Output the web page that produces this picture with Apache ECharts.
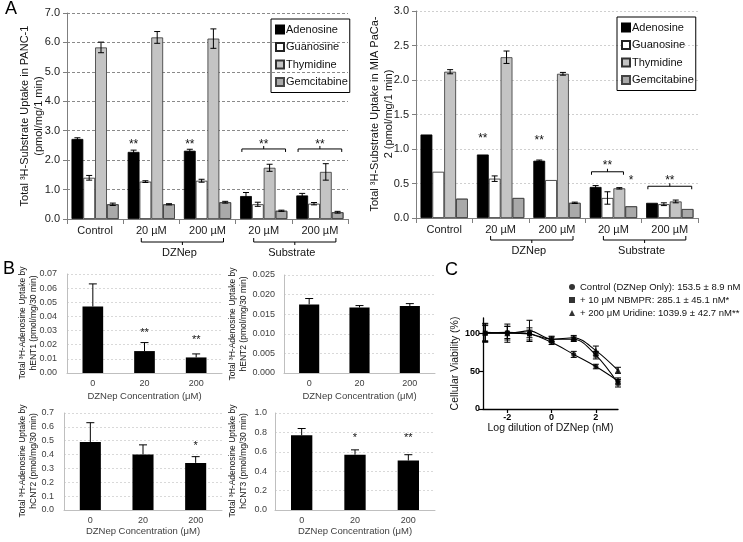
<!DOCTYPE html>
<html><head><meta charset="utf-8">
<script src="https://cdn.jsdelivr.net/npm/echarts@6/dist/echarts.min.js"></script>
<style>html,body{margin:0;padding:0;background:#fff}#c{width:743px;height:542px}</style>
</head><body><div id="c"></div>
<script>
// ---------------- data ----------------
const aCategories = ['Control', '20 µM', '200 µM', '20 µM', '200 µM'];
const substrates = ['Adenosine', 'Guanosine', 'Thymidine', 'Gemcitabine'];

const pancAdenosine = [2.72, 2.28, 2.32, 0.78, 0.80];
const pancAdenosineErr = [0.04, 0.06, 0.05, 0.12, 0.07];
const pancGuanosine = [1.40, 1.27, 1.30, 0.50, 0.52];
const pancGuanosineErr = [0.08, 0.03, 0.05, 0.07, 0.04];
const pancThymidine = [5.83, 6.17, 6.13, 1.74, 1.60];
const pancThymidineErr = [0.18, 0.20, 0.33, 0.12, 0.28];
const pancGemcitabine = [0.50, 0.50, 0.57, 0.28, 0.23];
const pancGemcitabineErr = [0.04, 0.02, 0.03, 0.02, 0.03];

const miaAdenosine = [1.21, 0.92, 0.83, 0.45, 0.22];
const miaAdenosineErr = [0, 0, 0.01, 0.02, 0];
const miaGuanosine = [0.67, 0.57, 0.55, 0.29, 0.20];
const miaGuanosineErr = [0, 0.04, 0, 0.09, 0.02];
const miaThymidine = [2.12, 2.33, 2.09, 0.43, 0.24];
const miaThymidineErr = [0.03, 0.09, 0.02, 0.01, 0.02];
const miaGemcitabine = [0.28, 0.29, 0.22, 0.17, 0.13];
const miaGemcitabineErr = [0, 0, 0.01, 0, 0];

const bCategories = ['0', '20', '200'];
const hENT1 = [0.047, 0.0155, 0.011];
const hENT1Err = [0.016, 0.006, 0.0025];
const hENT2 = [0.0175, 0.0167, 0.0171];
const hENT2Err = [0.0015, 0.0005, 0.0006];
const hCNT2 = [0.49, 0.40, 0.34];
const hCNT2Err = [0.14, 0.07, 0.045];
const hCNT3 = [0.77, 0.57, 0.51];
const hCNT3Err = [0.07, 0.05, 0.06];

const logDose = [-3, -2, -1, 0, 1, 2, 3];
const viabControl = [100, 101, 99, 88, 72, 56, 37];
const viabControlErr = [10, 8, 5, 3, 4, 3, 4];
const viabNBMPR = [100, 100, 99, 92, 92, 71, 34];
const viabNBMPRErr = [12, 9, 8, 4, 3, 5, 5];
const viabUridine = [101, 100, 103, 92, 94, 77, 51];
const viabUridineErr = [12, 12, 14, 3, 3, 6, 4];
const cLegend = ['Control (DZNep Only): 153.5 ± 8.9 nM', '+ 10 μM NBMPR: 285.1 ± 45.1 nM*', '+ 200 μM Uridine: 1039.9 ± 42.7 nM**'];
const cXTicks = [-2, 0, 2];
const cYTicks = [0, 50, 100];

// ---------------- helpers ----------------
const FONT = 'Liberation Sans, Arial, sans-serif';
const GAP_A = 0.16;
const GAP_B = 0.6;

function txt(x, y, text, size, extra) {
  return Object.assign({ type: 'text', x: x, y: y, style: { text: text, fill: '#111', fontSize: size, fontFamily: FONT, align: 'center', verticalAlign: 'middle', textAlign: 'center', textVerticalAlign: 'middle' } }, extra || {});
}
function poly(points, w) {
  return { type: 'polyline', shape: { points: points }, style: { stroke: '#000', fill: null, lineWidth: w || 1 } };
}

function errSeries(grid, vals, errs, idx, n, gap, upOnly, cap) {
  return {
    type: 'custom', xAxisIndex: grid, yAxisIndex: grid, z: 5, silent: true,
    data: vals.map((v, i) => [i, v, errs[i]]),
    renderItem: function (params, api) {
      const i = api.value(0), v = api.value(1), e = api.value(2);
      if (!e) return null;
      const band = api.size([1, 0])[0];
      const bw = band * (1 - gap) / n;
      const x = api.coord([i, v])[0] + (idx - (n - 1) / 2) * bw;
      const yTop = api.coord([i, v + e])[1];
      const yBot = api.coord([i, upOnly ? v : v - e])[1];
      const ch = [poly([[x, yTop], [x, yBot]]), poly([[x - cap, yTop], [x + cap, yTop]])];
      if (!upOnly) ch.push(poly([[x - cap, yBot], [x + cap, yBot]]));
      return { type: 'group', children: ch };
    }
  };
}

function annA(grid, cfg) {
  return {
    type: 'custom', xAxisIndex: grid, yAxisIndex: grid, z: 6, silent: true, clip: false,
    data: [[0, 0]],
    renderItem: function (params, api) {
      const ch = [];
      const band = api.size([1, 0])[0];
      const bw = band * (1 - GAP_A) / 4;
      const cx = c => api.coord([c, 0])[0];
      const bx = (c, i) => cx(c) + (i - 1.5) * bw;
      const y = v => api.coord([0, v])[1];
      const axisY = y(0);
      cfg.stars.forEach(s => ch.push(txt(bx(s.cat, s.bar), y(s.y) + 3, s.text, 12)));
      cfg.brackets.forEach(b => {
        const x1 = bx(b.cat, b.from) - bw * 0.35, x2 = bx(b.cat, b.to) + bw * 0.35, yy = y(b.y), m = (x1 + x2) / 2;
        ch.push(poly([[x1, yy + 3], [x1, yy], [x2, yy], [x2, yy + 3]]));
        ch.push(poly([[m, yy], [m, yy - 3]]));
        ch.push(txt(m, y(b.ty) + 3, b.text, 12));
      });
      cfg.groups.forEach(g => {
        const x1 = cx(g.c1) - 10, x2 = cx(g.c2) + 16, yy = axisY + cfg.dy, m = (x1 + x2) / 2;
        ch.push(poly([[x1, yy - 4], [x1, yy], [x2, yy], [x2, yy - 4]]));
        ch.push(poly([[m, yy], [m, yy + 3]]));
        ch.push(txt((cx(g.c1) + cx(g.c2)) / 2, yy + 11, g.label, 11));
      });
      return { type: 'group', children: ch };
    }
  };
}

function annB(grid, stars) {
  return {
    type: 'custom', xAxisIndex: grid, yAxisIndex: grid, z: 6, silent: true, clip: false,
    data: [[0, 0]],
    renderItem: function (params, api) {
      return { type: 'group', children: stars.map(s => txt(api.coord([s.cat, s.y])[0], api.coord([s.cat, s.y])[1] + 3, s.text, 11)) };
    }
  };
}

// ---------------- axes ----------------
const grids = [
  { left: 67, top: 13, width: 281, height: 206 },
  { left: 416, top: 11, width: 282, height: 207 },
  { left: 67, top: 274, width: 155, height: 99 },
  { left: 284, top: 275, width: 151, height: 98 },
  { left: 64, top: 413, width: 158, height: 97 },
  { left: 275, top: 413, width: 160, height: 97 },
  { left: 483, top: 318, width: 135, height: 91 }
];

function aX(g) {
  return { type: 'category', gridIndex: g, data: aCategories,
    axisLine: { lineStyle: { color: '#7f7f7f' } },
    axisTick: { show: true, length: 5, lineStyle: { color: '#7f7f7f' } },
    axisLabel: { fontSize: 11, color: '#1a1a1a', margin: 6, fontFamily: FONT, interval: 0 } };
}
function aY(g, max, interval, gridColor, gridType) {
  return { type: 'value', gridIndex: g, min: 0, max: max, interval: interval,
    axisLine: { show: true, lineStyle: { color: '#7f7f7f' } },
    axisTick: { show: true, length: 4, lineStyle: { color: '#7f7f7f' } },
    axisLabel: { fontSize: 11, color: '#1a1a1a', margin: 7, fontFamily: FONT, formatter: v => v.toFixed(1) },
    splitLine: { lineStyle: { color: gridColor, type: gridType } } };
}
function bX(g, gapName) {
  return { type: 'category', gridIndex: g, data: bCategories,
    axisLine: { lineStyle: { color: '#bfbfbf' } }, axisTick: { show: false },
    axisLabel: { fontSize: 9, color: '#404040', margin: 6, fontFamily: FONT },
    name: 'DZNep Concentration (μM)', nameLocation: 'middle', nameGap: gapName,
    nameTextStyle: { fontSize: 9.5, color: '#404040', fontFamily: FONT } };
}
function bY(g, max, interval, dec, margin) {
  return { type: 'value', gridIndex: g, min: 0, max: max, interval: interval,
    axisLine: { show: true, lineStyle: { color: '#bfbfbf' } }, axisTick: { show: false },
    axisLabel: { fontSize: 9, color: '#404040', margin: margin, fontFamily: FONT, formatter: v => v.toFixed(dec) },
    splitLine: { lineStyle: { color: '#d9d9d9', type: [2, 2] } } };
}

const xAxes = [aX(0), aX(1), bX(2, 18), bX(3, 18), bX(4, 16), bX(5, 16),
  { type: 'value', gridIndex: 6, min: -3.1, max: 3,
    axisLine: { onZero: false, lineStyle: { color: '#000', width: 1.3 } },
    axisTick: { customValues: cXTicks, length: 4, lineStyle: { color: '#000', width: 1.2 } },
    axisLabel: { customValues: cXTicks, fontSize: 9, fontWeight: 'bold', color: '#000', margin: 4, fontFamily: FONT, formatter: v => String(v) },
    splitLine: { show: false },
    name: 'Log dilution of DZNep (nM)', nameLocation: 'middle', nameGap: 13,
    nameTextStyle: { fontSize: 10.5, color: '#111', fontFamily: FONT } }];
const yAxes = [aY(0, 7, 1, '#8a8a8a', [3, 2]), aY(1, 3, 0.5, '#cfcfcf', [2, 2]),
  bY(2, 0.07, 0.01, 2, 10), bY(3, 0.025, 0.005, 3, 9), bY(4, 0.7, 0.1, 1, 10), bY(5, 1.0, 0.2, 1, 8),
  { type: 'value', gridIndex: 6, min: 0, max: 120,
    axisLine: { show: true, onZero: false, lineStyle: { color: '#000', width: 1.3 } },
    axisTick: { show: true, customValues: cYTicks, length: 4, lineStyle: { color: '#000', width: 1.2 } },
    axisLabel: { customValues: cYTicks, fontSize: 9, fontWeight: 'bold', color: '#000', margin: 3, fontFamily: FONT },
    splitLine: { show: false },
    name: 'Cellular Viability (%)', nameLocation: 'middle', nameGap: 22,
    nameTextStyle: { fontSize: 10.5, color: '#111', fontFamily: FONT } }];

// ---------------- series ----------------
const barStyles = [
  { color: '#000', borderColor: '#000', borderWidth: 0.8 },
  { color: '#fff', borderColor: '#222', borderWidth: 0.8 },
  { color: '#c4c4c4', borderColor: '#333', borderWidth: 0.8 },
  { color: '#a9a9a9', borderColor: '#444', borderWidth: 0.8,
    decal: { symbol: 'none', dashArrayX: [1, 0], dashArrayY: [1, 2], rotation: Math.PI / 4, color: 'rgba(70,70,70,0.55)' } }
];
const aSets = [
  [[pancAdenosine, pancAdenosineErr], [pancGuanosine, pancGuanosineErr], [pancThymidine, pancThymidineErr], [pancGemcitabine, pancGemcitabineErr]],
  [[miaAdenosine, miaAdenosineErr], [miaGuanosine, miaGuanosineErr], [miaThymidine, miaThymidineErr], [miaGemcitabine, miaGemcitabineErr]]
];
const series = [];
aSets.forEach((set, g) => {
  set.forEach((pair, i) => {
    series.push({ type: 'bar', name: substrates[i], xAxisIndex: g, yAxisIndex: g, data: pair[0],
      barGap: '0%', barCategoryGap: (GAP_A * 100) + '%', itemStyle: barStyles[i], silent: true });
  });
  set.forEach((pair, i) => series.push(errSeries(g, pair[0], pair[1], i, 4, GAP_A, false, 3)));
});
[[hENT1, hENT1Err], [hENT2, hENT2Err], [hCNT2, hCNT2Err], [hCNT3, hCNT3Err]].forEach((pair, k) => {
  const g = k + 2;
  series.push({ type: 'bar', xAxisIndex: g, yAxisIndex: g, data: pair[0], barCategoryGap: (GAP_B * 100) + '%',
    itemStyle: { color: '#000' }, silent: true });
  series.push(errSeries(g, pair[0], pair[1], 0, 1, GAP_B, true, 4));
});

series.push(annA(0, {
  dy: 23,
  stars: [{ cat: 1, bar: 0, y: 2.62, text: '**' }, { cat: 2, bar: 0, y: 2.62, text: '**' }],
  brackets: [{ cat: 3, from: 0, to: 3, y: 2.38, ty: 2.64, text: '**' }, { cat: 4, from: 0, to: 3, y: 2.38, ty: 2.64, text: '**' }],
  groups: [{ c1: 1, c2: 2, label: 'DZNep' }, { c1: 3, c2: 4, label: 'Substrate' }]
}));
series.push(annA(1, {
  dy: 22,
  stars: [{ cat: 1, bar: 0, y: 1.20, text: '**' }, { cat: 2, bar: 0, y: 1.16, text: '**' }, { cat: 3, bar: 3, y: 0.59, text: '*' }],
  brackets: [{ cat: 3, from: 0, to: 2, y: 0.67, ty: 0.80, text: '**' }, { cat: 4, from: 0, to: 3, y: 0.46, ty: 0.58, text: '**' }],
  groups: [{ c1: 1, c2: 2, label: 'DZNep' }, { c1: 3, c2: 4, label: 'Substrate' }]
}));
series.push(annB(2, [{ cat: 1, y: 0.0307, text: '**' }, { cat: 2, y: 0.0257, text: '**' }]));
series.push(annB(4, [{ cat: 2, y: 0.486, text: '*' }]));
series.push(annB(5, [{ cat: 1, y: 0.77, text: '*' }, { cat: 2, y: 0.77, text: '**' }]));

// Panel C
const cSets = [[viabControl, viabControlErr, 'circle', 5], [viabNBMPR, viabNBMPRErr, 'rect', 5], [viabUridine, viabUridineErr, 'triangle', 6]];
cSets.forEach((s, k) => {
  const pts = logDose.map((x, i) => [x, s[0][i]]);
  series.push({ type: 'line', xAxisIndex: 6, yAxisIndex: 6, data: pts, smooth: 0.35, showSymbol: false, symbol: 'none',
    lineStyle: { color: '#000', width: 1.1 }, silent: true, z: 3 });
  series.push({ type: 'scatter', name: cLegend[k], xAxisIndex: 6, yAxisIndex: 6, data: pts, symbol: s[2], symbolSize: s[3],
    itemStyle: { color: '#000' }, silent: true, z: 4 });
  series.push({ type: 'custom', xAxisIndex: 6, yAxisIndex: 6, z: 4, silent: true,
    data: logDose.map((x, i) => [x, s[0][i], s[1][i]]),
    renderItem: function (params, api) {
      const x = api.coord([api.value(0), api.value(1)])[0];
      const y1 = api.coord([api.value(0), api.value(1) + api.value(2)])[1];
      const y2 = api.coord([api.value(0), api.value(1) - api.value(2)])[1];
      return { type: 'group', children: [poly([[x, y1], [x, y2]]), poly([[x - 3, y1], [x + 3, y1]]), poly([[x - 3, y2], [x + 3, y2]])] };
    } });
});

const legendA = (left, top) => ({
  data: substrates, left: left, top: top, orient: 'vertical', borderColor: '#000', borderWidth: 1,
  padding: [4, 2, 4, 4], itemGap: 4.5, itemWidth: 8, itemHeight: 8, icon: 'rect', selectedMode: false,
  textStyle: { fontSize: 11, fontFamily: FONT, color: '#111', lineHeight: 13, padding: [0, 0, 0, -3] }
});

const graphic = [
  { type: 'text', x: 5, y: 4, style: { text: 'A', fontSize: 18, fontFamily: FONT, fill: '#000' } },
  { type: 'text', x: 3, y: 264, style: { text: 'B', fontSize: 18, fontFamily: FONT, fill: '#000' } },
  { type: 'text', x: 445, y: 265, style: { text: 'C', fontSize: 18, fontFamily: FONT, fill: '#000' } },
  txt(32, 116, 'Total ³H-Substrate Uptake in PANC-1\n(pmol/mg/1 min)', 11, { rotation: Math.PI / 2 }),
  txt(382, 114, 'Total ³H-Substrate Uptake in MIA PaCa-\n2 (pmol/mg/1 min)', 11, { rotation: Math.PI / 2 }),
  txt(28, 323, 'Total ³H-Adenosine Uptake by\nhENT1 (pmol/mg/30 min)', 8.5, { rotation: Math.PI / 2 }),
  txt(238, 324, 'Total ³H-Adenosine Uptake by\nhENT2 (pmol/mg/30 min)', 8.5, { rotation: Math.PI / 2 }),
  txt(28, 461, 'Total ³H-Adenosine Uptake by\nhCNT2 (pmol/mg/30 min)', 8.5, { rotation: Math.PI / 2 }),
  txt(238, 461, 'Total ³H-Adenosine Uptake by\nhCNT3 (pmol/mg/30 min)', 8.5, { rotation: Math.PI / 2 })
];
graphic.forEach(g => { if (g.style) { g.style.lineHeight = g.style.fontSize > 10 && g.style.fontSize < 12 ? 14 : 11; } });

const chart = echarts.init(document.getElementById('c'), null, { renderer: 'canvas' });
chart.setOption({
  animation: false,
  backgroundColor: '#fff',
  textStyle: { fontFamily: FONT },
  grid: grids,
  xAxis: xAxes,
  yAxis: yAxes,
  legend: [legendA(271, 19), legendA(617, 17),
    { data: cLegend, left: 564, top: 277, orient: 'vertical', itemGap: 3, itemWidth: 6, itemHeight: 6, selectedMode: false,
      textStyle: { fontSize: 9.5, fontFamily: FONT, color: '#111' } }],
  graphic: graphic,
  series: series
});
</script></body></html>
